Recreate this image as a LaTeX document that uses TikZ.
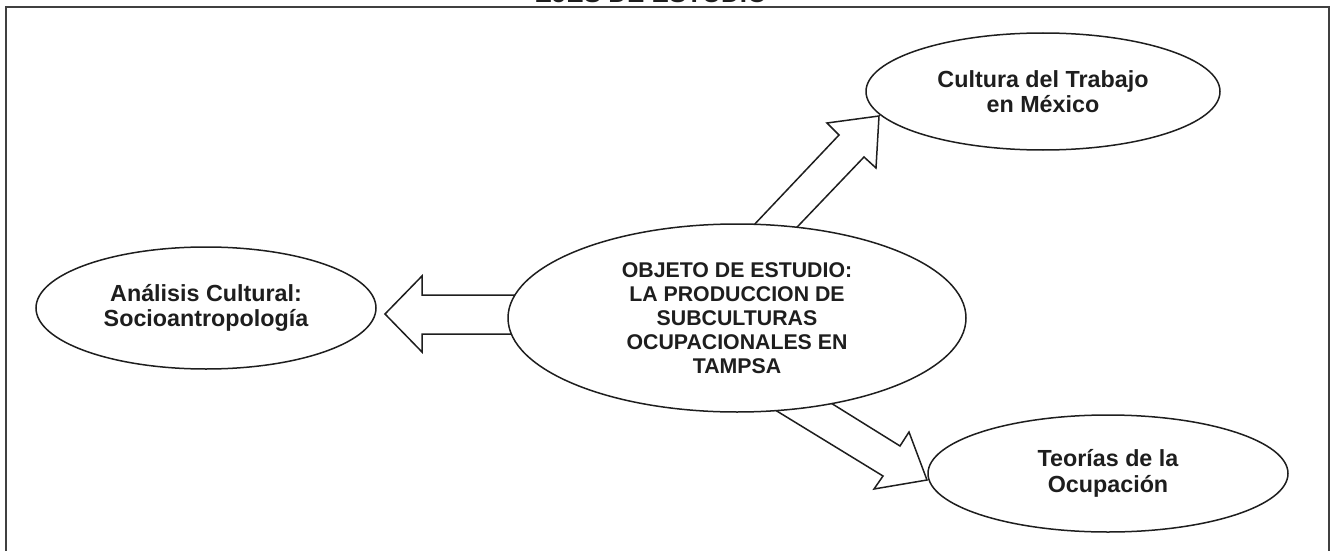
\documentclass[tikz,border=0pt]{standalone}
\usepackage{fontspec}
\setmainfont{Liberation Sans}
\usetikzlibrary{shapes.geometric}
\definecolor{ink}{HTML}{1E1E1E}
\begin{document}
\begin{tikzpicture}[x=1pt,y=-1pt,
  bubble/.style={ellipse, draw=ink, line width=1.5pt, fill=white, inner sep=0pt,
    align=center, text=ink, font=\bfseries\fontsize{23.3}{25.5}\selectfont},
  centerbubble/.style={bubble, font=\bfseries\fontsize{21.3}{24}\selectfont},
  blockarrow/.style={draw=ink, line width=1.5pt, fill=white, line join=miter},
  frameline/.style={draw=ink!85, line width=1.2pt}]
\useasboundingbox (0,0) rectangle (1336,551);
% frame
\draw[frameline] (6,7) rectangle (1329,575);
\node[anchor=base, text=ink, font=\bfseries\fontsize{26}{28}\selectfont] (title) at (651,2.5) {EJES DE ESTUDIO};
% block arrows (drawn first, their tails hidden under the central ellipse)
\draw[blockarrow] (530,295) -- (422,295) -- (422,276) -- (385,314) -- (422,352) -- (422,334) -- (530,334) -- cycle;
\draw[blockarrow] (735,245) -- (839,135) -- (827,123) -- (879,116) -- (876,168) -- (864,157) -- (780,245) -- cycle;
\draw[blockarrow] (810,390) -- (900,446) -- (909,432) -- (927,480) -- (874,489) -- (883,476) -- (749,394) -- cycle;
% ellipses
\node[centerbubble, minimum width=458pt, minimum height=188pt] (obj) at (737,318)
  {OBJETO DE ESTUDIO:\\LA PRODUCCION DE\\SUBCULTURAS\\OCUPACIONALES EN\\TAMPSA};
\node[bubble, minimum width=340pt, minimum height=122pt] (cult) at (206,308)
  {Análisis Cultural:\\Socioantropología};
\node[bubble, minimum width=354pt, minimum height=117pt] (trab) at (1043,91.5)
  {Cultura del Trabajo\\en México};
\node[bubble, minimum width=360pt, minimum height=117pt] (ocup) at (1108,473.5)
  {Teorías de la\\Ocupación};
\end{tikzpicture}
\end{document}
